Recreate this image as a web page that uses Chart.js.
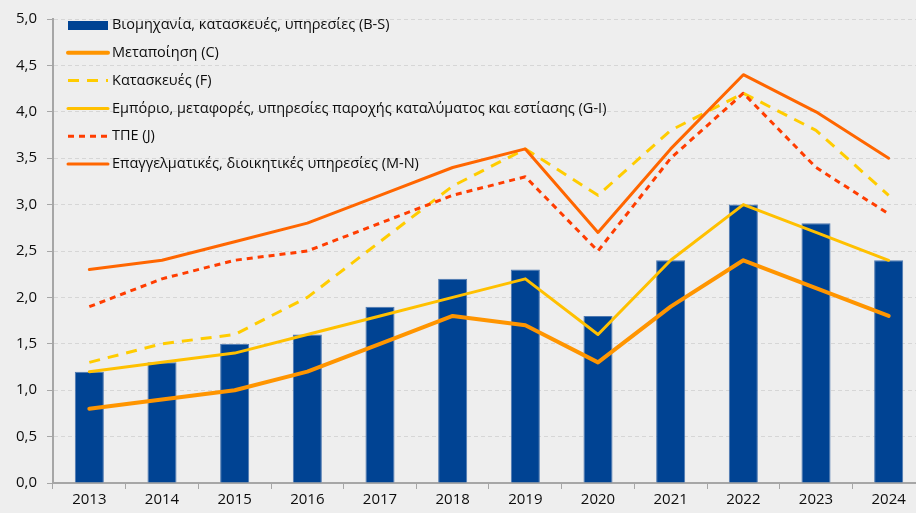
<!DOCTYPE html>
<html>
<head>
<meta charset="utf-8">
<script src="https://cdn.jsdelivr.net/npm/chart.js@4"></script>
<style>
  html, body { margin: 0; padding: 0; background: #eeeeee; overflow: hidden; }
  #wrap { position: relative; width: 925px; height: 513px; }
</style>
</head>
<body>
<div id="wrap"><canvas id="myChart"></canvas></div>
<script>
const years = ['2013', '2014', '2015', '2016', '2017', '2018', '2019', '2020', '2021', '2022', '2023', '2024'];
const industryServices = [1.2, 1.3, 1.5, 1.6, 1.9, 2.2, 2.3, 1.8, 2.4, 3.0, 2.8, 2.4];
const manufacturing = [0.8, 0.9, 1.0, 1.2, 1.5, 1.8, 1.7, 1.3, 1.9, 2.4, 2.1, 1.8];
const construction = [1.3, 1.5, 1.6, 2.0, 2.6, 3.2, 3.6, 3.1, 3.8, 4.2, 3.8, 3.1];
const tradeTransport = [1.2, 1.3, 1.4, 1.6, 1.8, 2.0, 2.2, 1.6, 2.4, 3.0, 2.7, 2.4];
const ict = [1.9, 2.2, 2.4, 2.5, 2.8, 3.1, 3.3, 2.5, 3.5, 4.2, 3.4, 2.9];
const professional = [2.3, 2.4, 2.6, 2.8, 3.1, 3.4, 3.6, 2.7, 3.6, 4.4, 4.0, 3.5];
const yTicks = [0, 0.5, 1, 1.5, 2, 2.5, 3, 3.5, 4, 4.5, 5];

const fontFamily = "'Open Sans', sans-serif";
const ctx = document.getElementById('myChart');

// legend drawn inside the plot area, top-left
const insideLegend = {
  id: 'insideLegend',
  afterDraw(chart) {
    const c = chart.ctx;
    const x0 = 68, x1 = 108, tx = 112, y0 = 25, step = 27.8;
    c.save();
    c.font = '14.5px ' + fontFamily;
    c.textBaseline = 'middle';
    chart.data.datasets.forEach((ds, i) => {
      const y = y0 + i * step;
      if (ds.type === 'bar') {
        c.fillStyle = ds.backgroundColor;
        c.fillRect(x0, y - 4, x1 - x0, 9);
      } else {
        c.beginPath();
        c.strokeStyle = ds.borderColor;
        c.lineWidth = ds.borderWidth;
        c.lineCap = ds.borderDash.length ? 'butt' : 'round';
        c.setLineDash(ds.borderDash);
        c.moveTo(x0, y);
        c.lineTo(x1, y);
        c.stroke();
        c.setLineDash([]);
      }
      c.fillStyle = '#0d0d0d';
      c.fillText(ds.label, tx, y);
    });
    c.restore();
  }
};

function lineSet(label, data, color, width, dash, order) {
  return {
    type: 'line',
    label: label,
    data: data,
    borderColor: color,
    backgroundColor: color,
    borderWidth: width,
    borderDash: dash,
    borderCapStyle: dash.length ? 'butt' : 'round',
    borderJoinStyle: 'round',
    pointRadius: 0,
    tension: 0,
    order: order
  };
}

new Chart(ctx, {
  data: {
    labels: years,
    datasets: [
      {
        type: 'bar',
        label: 'Βιομηχανία, κατασκευές, υπηρεσίες (B-S)',
        data: industryServices,
        backgroundColor: '#004393',
        borderColor: '#4d78b0',
        borderWidth: 1,
        barPercentage: 0.4,
        categoryPercentage: 1,
        order: 10
      },
      lineSet('Μεταποίηση (C)', manufacturing, '#FF9500', 4, [], 5),
      lineSet('Κατασκευές (F)', construction, '#FFCC00', 3, [11, 8], 4),
      lineSet('Εμπόριο, μεταφορές, υπηρεσίες παροχής καταλύματος και εστίασης (G-I)', tradeTransport, '#FFC000', 3, [], 3),
      lineSet('ΤΠΕ (J)', ict, '#FF3D00', 3, [6, 5], 2),
      lineSet('Επαγγελματικές, διοικητικές υπηρεσίες (M-N)', professional, '#FF6600', 3, [], 1)
    ]
  },
  options: {
    responsive: true,
    maintainAspectRatio: false,
    animation: false,
    layout: { padding: { top: 14, right: 0, left: 0, bottom: 0 } },
    plugins: {
      legend: { display: false },
      title: { display: false },
      tooltip: { enabled: false }
    },
    scales: {
      y: {
        min: 0,
        max: 5,
        afterBuildTicks(axis) {
          axis.ticks = yTicks.map(v => ({ value: v }));
        },
        afterFit(axis) { axis.width = 53; },
        border: { display: true, color: '#a6a6a6', width: 2, dash: [4, 3] },
        grid: {
          color: '#d6d6d6',
          tickColor: '#a6a6a6',
          tickLength: 6,
          lineWidth: 1,
          tickBorderDash: []
        },
        ticks: {
          color: '#0d0d0d',
          font: { family: fontFamily, size: 15 },
          padding: 10,
          callback: v => v.toFixed(1).replace('.', ',')
        }
      },
      x: {
        afterFit(axis) { axis.height = 30; },
        border: { display: true, color: '#a6a6a6', width: 2 },
        grid: {
          display: true,
          offset: true,
          drawOnChartArea: false,
          tickColor: '#a6a6a6',
          tickLength: 6
        },
        ticks: {
          color: '#0d0d0d',
          font: { family: fontFamily, size: 15 },
          padding: 2
        }
      }
    }
  },
  plugins: [insideLegend]
});
</script>
</body>
</html>
